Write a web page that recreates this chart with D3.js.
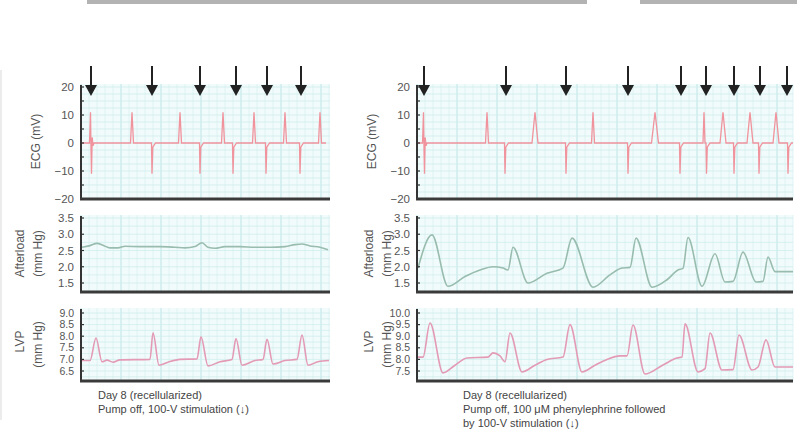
<!DOCTYPE html>
<html><head><meta charset="utf-8">
<script src="https://cdn.jsdelivr.net/npm/d3@7"></script>
<style>body{margin:0;background:#fff}svg{display:block}text{font-family:"Liberation Sans",Arial,sans-serif}</style>
</head><body>
<script>
// ---------- DATA (time in s, values in units shown) ----------
// ECG events: biphasic stimulus, up spikes [t, width], down spikes
const ecgLeftBiphasic = [1.0];
const ecgLeftUp = [[5.1,0.3],[9.9,0.3],[14.2,0.3],[17.3,0.3],[20.4,0.3],[23.9,0.3]];
const ecgLeftDown = [7.1,11.9,15.2,18.5,21.9];
const ecgRightBiphasic = [0.7];
const ecgRightUp = [[7.0,0.3],[11.8,0.6],[17.6,0.3],[23.8,0.7],[28.7,0.2],[30.6,0.6],[33.3,0.6],[35.9,0.6]];
const ecgRightDown = [8.8,14.9,21.1,26.3,28.95,31.7,34.2,37.1];
const spikeAmp = 11;
const arrowsLeft = [1.0,7.1,11.9,15.5,18.6,22.0];
const arrowsRight = [0.7,8.9,14.9,21.1,26.4,28.9,31.7,34.3,37.0];

const afterloadLeft = [[0.1,2.6],[0.9,2.65],[1.6,2.72],[2.2,2.66],[2.9,2.58],[3.7,2.58],[4.4,2.63],[5.9,2.62],[7.9,2.62],[9.4,2.6],[10.4,2.58],[11.4,2.62],[12.1,2.74],[12.7,2.6],[13.4,2.57],[14.4,2.62],[15.9,2.62],[17.4,2.6],[18.9,2.6],[20.4,2.62],[21.4,2.68],[22.1,2.7],[22.9,2.64],[23.9,2.6],[24.7,2.52]];
const afterloadRight = [[0.1,1.96],[1.5,2.98],[3.1,1.4],[4.8,1.7],[6.3,1.9],[7.6,2.0],[8.6,1.96],[9.1,1.9],[9.6,2.6],[11.1,1.5],[13.0,1.8],[14.6,1.96],[15.5,2.88],[17.6,1.37],[19.3,1.75],[20.5,1.96],[21.3,1.98],[21.9,2.88],[23.5,1.37],[25.0,1.6],[26.1,1.9],[26.6,1.95],[27.1,2.9],[28.5,1.4],[29.8,2.4],[30.8,1.53],[31.6,1.55],[32.6,2.45],[33.9,1.53],[34.6,1.55],[35.1,2.3],[35.8,1.85],[37.6,1.85]];
const lvpLeft = [[0.1,6.95],[0.9,6.95],[1.5,7.92],[2.1,6.9],[2.6,6.97],[3.2,6.88],[3.9,6.98],[6.9,7.0],[7.2,8.15],[7.8,6.75],[8.7,6.88],[9.9,7.0],[11.6,7.02],[12.0,7.97],[12.7,6.72],[13.9,6.9],[15.1,7.0],[15.5,7.9],[16.1,6.75],[17.4,6.95],[18.2,7.0],[18.6,7.87],[19.2,6.8],[20.4,6.95],[21.6,7.0],[22.1,8.05],[22.7,6.75],[23.7,6.9],[24.8,6.95]];
const lvpRight = [[0.1,8.1],[0.6,8.1],[1.3,9.57],[2.6,7.42],[3.8,7.75],[5.0,8.06],[7.1,8.1],[7.6,8.28],[8.3,8.15],[8.8,7.9],[9.3,9.14],[10.5,7.46],[11.8,7.75],[13.0,8.0],[14.6,8.1],[15.3,9.5],[16.5,7.46],[17.8,7.75],[19.0,8.0],[20.3,8.15],[21.0,8.15],[21.6,9.48],[22.8,7.37],[24.6,7.76],[26.0,8.06],[26.5,8.1],[26.8,9.53],[28.1,7.46],[28.8,7.6],[29.3,9.14],[30.5,7.54],[31.6,7.56],[32.2,9.05],[33.5,7.54],[34.1,7.67],[34.9,8.84],[35.8,7.67],[37.6,7.67]];

const ecgTicks = [20,10,0,-10,-20];
const afterTicks = [3.5,3.0,2.5,2.0,1.5];
const lvpLeftTicks = [9.0,8.5,8.0,7.5,7.0,6.5];
const lvpRightTicks = [10.0,9.5,9.0,8.5,8.0,7.5];
const captionLeft = ["Day 8 (recellularized)","Pump off, 100-V stimulation (\u2193)"];
const captionRight = ["Day 8 (recellularized)","Pump off, 100 \u03bcM phenylephrine followed","by 100-V stimulation (\u2193)"];

// ---------- BUILD ECG TRACES ----------
function buildEcg(bi, ups, downs, tEnd){
  const ev = [];
  bi.forEach(t=>ev.push({t, type:"bi"}));
  ups.forEach(([t,w])=>ev.push({t, w, type:"up"}));
  downs.forEach(t=>ev.push({t, type:"down"}));
  ev.sort((a,b)=>a.t-b.t);
  const pts=[[0.1,0]];
  ev.forEach(e=>{
    if(e.type==="bi"){pts.push([e.t-0.15,0],[e.t-0.05,spikeAmp],[e.t,-2],[e.t+0.05,-spikeAmp],[e.t+0.12,2],[e.t+0.2,-1],[e.t+0.3,0]);}
    else if(e.type==="up"){pts.push([e.t-e.w/2,0],[e.t,spikeAmp],[e.t+e.w/2,0]);}
    else {pts.push([e.t-0.05,0],[e.t,-spikeAmp],[e.t+0.08,-1.5],[e.t+0.35,0]);}
  });
  pts.push([tEnd,0]);
  return pts;
}

const W=797,H=430;
const svg=d3.select("body").append("svg").attr("width",W).attr("height",H);

// top gray bars
svg.append("rect").attr("x",87).attr("y",0).attr("width",500).attr("height",4).attr("fill","#b3b3b3");
svg.append("rect").attr("x",640).attr("y",0).attr("width",157).attr("height",4).attr("fill","#b3b3b3");
svg.append("line").attr("x1",1).attr("x2",1).attr("y1",70).attr("y2",420).attr("stroke","#e6e6e6").attr("stroke-width",1.5);

const panels=[
 {x0:81,x1:330,tMax:24.9,titleX:[36,20,38],ecg:buildEcg(ecgLeftBiphasic,ecgLeftUp,ecgLeftDown,24.5),after:afterloadLeft,lvp:lvpLeft,lvpTicks:lvpLeftTicks,arrows:arrowsLeft,caption:captionLeft,capX:98},
 {x0:417,x1:793,tMax:37.6,titleX:[372,369,387],ecg:buildEcg(ecgRightBiphasic,ecgRightUp,ecgRightDown,37.6),after:afterloadRight,lvp:lvpRight,lvpTicks:lvpRightTicks,arrows:arrowsRight,caption:captionRight,capX:463}
];

const rows=[
 {key:"ecg",top:84,bottom:199,d0:-20,d1:20,r0:199,r1:87,ticks:ecgTicks,minor:2.5,color:"#f0939d",fmt:d=>d===0?"0":(d<0?"\u2212"+(-d):String(d)),curve:d3.curveLinear},
 {key:"after",top:215,bottom:292,d0:1.5,d1:3.5,r0:283,r1:218,ticks:afterTicks,minor:0.25,color:"#98bcae",fmt:d3.format(".1f"),curve:d3.curveMonotoneX},
 {key:"lvp",top:308,bottom:381,d0:null,d1:null,r0:371,r1:313,minor:0.25,color:"#e39ab5",fmt:d3.format(".1f"),curve:d3.curveMonotoneX}
];

panels.forEach(p=>{
  const x=d3.scaleLinear().domain([0,p.tMax]).range([p.x0,p.x1]);
  rows.forEach(r=>{
    let ticks=r.ticks, d0=r.d0, d1=r.d1;
    if(r.key==="lvp"){ticks=p.lvpTicks; d0=d3.min(ticks); d1=d3.max(ticks);}
    const y=d3.scaleLinear().domain([d0,d1]).range([r.r0,r.r1]);
    const g=svg.append("g");
    g.append("rect").attr("x",p.x0).attr("y",r.top).attr("width",p.x1-p.x0).attr("height",r.bottom-r.top).attr("fill","#f2fbfb");
    // vertical grid
    const vt=d3.range(0,p.tMax+0.001,0.8);
    g.selectAll(null).data(vt).join("line").attr("x1",d=>x(d)).attr("x2",d=>x(d)).attr("y1",r.top).attr("y2",r.bottom)
      .attr("stroke",(d,i)=>i%5===0?"#bde4e6":"#d9f1f1").attr("stroke-width",(d,i)=>i%5===0?1:0.8);
    // horizontal grid
    const yMin=y.invert(r.bottom), yMax=y.invert(r.top);
    const ht=d3.range(Math.ceil(yMin/r.minor)*r.minor, yMax, r.minor);
    g.selectAll(null).data(ht).join("line").attr("x1",p.x0).attr("x2",p.x1).attr("y1",d=>y(d)).attr("y2",d=>y(d))
      .attr("stroke","#cfeeee").attr("stroke-width",0.8);
    // trace
    const data=p[r.key];
    const line=d3.line().x(d=>x(d[0])).y(d=>y(d[1])).curve(r.curve);
    g.append("path").attr("d",line(data)).attr("fill","none").attr("stroke",r.color).attr("stroke-width",r.key==="ecg"?1.3:1.6);
    // axes
    g.append("line").attr("x1",p.x0).attr("x2",p.x0).attr("y1",r.top+1).attr("y2",r.bottom).attr("stroke","#333").attr("stroke-width",2);
    g.append("line").attr("x1",p.x0-1).attr("x2",p.x1).attr("y1",r.bottom).attr("y2",r.bottom).attr("stroke","#3a3a3a").attr("stroke-width",3);
    const minorT=d3.range(Math.ceil(yMin/(r.minor*2))*(r.minor*2), yMax, r.minor*2);
    g.selectAll(null).data(minorT).join("line").attr("x1",p.x0).attr("x2",p.x0+3).attr("y1",d=>y(d)).attr("y2",d=>y(d)).attr("stroke","#333").attr("stroke-width",1.2);
    g.selectAll(null).data(ticks).join("text").attr("x",p.x0-7).attr("y",d=>y(d)).attr("dy","0.35em")
      .attr("text-anchor","end").attr("font-size",r.key==="lvp"?10.5:11.5).attr("fill","#555").text(r.fmt);
    // titles
    const cy=(r.top+r.bottom)/2;
    if(r.key==="ecg"){
      g.append("text").attr("transform",`translate(${p.titleX[0]},${cy}) rotate(-90)`).attr("text-anchor","middle").attr("dy","0.35em").attr("font-size",12).attr("fill","#555").text("ECG (mV)");
    } else {
      const t1=r.key==="after"?"Afterload":"LVP";
      g.append("text").attr("transform",`translate(${p.titleX[1]},${cy+(r.key==="lvp"?-3:0)}) rotate(-90)`).attr("text-anchor","middle").attr("dy","0.35em").attr("font-size",12).attr("fill","#555").text(t1);
      g.append("text").attr("transform",`translate(${p.titleX[2]},${cy}) rotate(-90)`).attr("text-anchor","middle").attr("dy","0.35em").attr("font-size",12).attr("fill","#555").text("(mm Hg)");
    }
  });
  // arrows
  const ag=svg.append("g");
  p.arrows.forEach(t=>{
    const ax=x(t);
    ag.append("line").attr("x1",ax).attr("x2",ax).attr("y1",66).attr("y2",88).attr("stroke","#222").attr("stroke-width",2);
    ag.append("path").attr("d",`M${ax-6},85 L${ax+6},85 L${ax},96 Z`).attr("fill","#222");
  });
  // caption
  svg.selectAll(null).data(p.caption).join("text").attr("x",p.capX).attr("y",(d,i)=>399+i*13.8)
    .attr("font-size",11).attr("fill","#444").text(d=>d);
});
</script>
</body></html>
